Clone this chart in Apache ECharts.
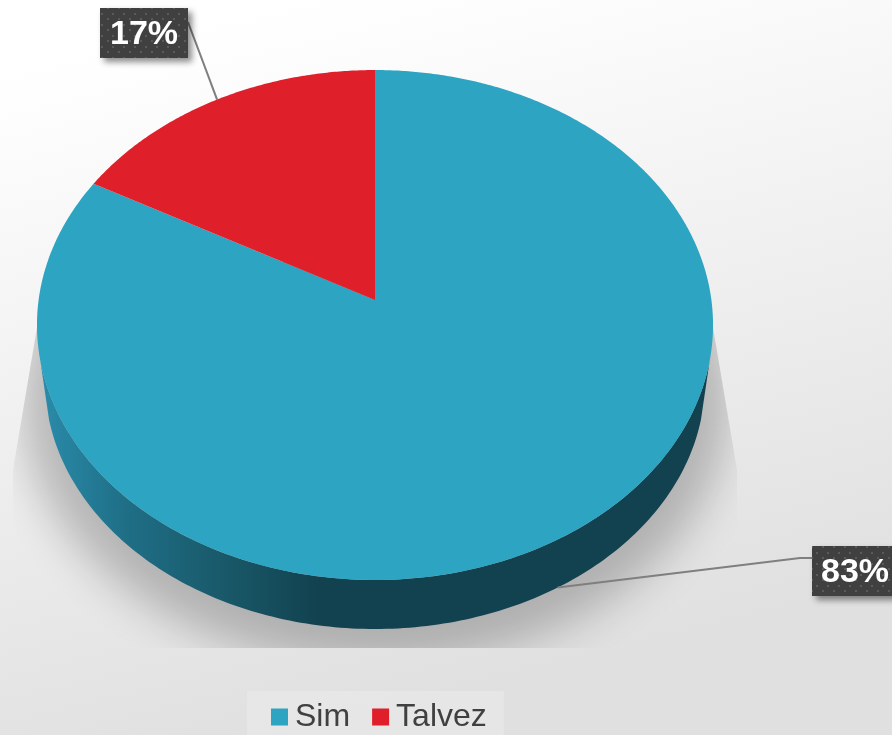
<!DOCTYPE html>
<html><head><meta charset="utf-8">
<style>html,body{margin:0;padding:0;background:#eee}#c{width:892px;height:735px}</style>
<script src="https://cdn.jsdelivr.net/npm/echarts@6/dist/echarts.min.js"></script>
</head><body><div id="c"></div>
<script>
const categories = ['Sim', 'Talvez'];
const seriesValues = [83, 17];
const sliceColors = ['#2ca4c2', '#df1f29'];

const total = seriesValues.reduce((a, b) => a + b, 0);
// 3D-look projection of the pie disc
const apex = {x: 375, y: 300}, persp = -0.098, kx = 336.4, ky = 252.5;
const rim = a => {
  const u = Math.sin(a), v = -Math.cos(a), d = 1 + persp * v;
  return [apex.x + kx * u / d, apex.y + ky * v / d];
};
const topE = {cx: 375, cy: 325, rx: 338, ry: 255};
const botE = {cx: 375, cy: 381, rx: 330, ry: 248};
const toBottom = p => [botE.cx + (p[0] - topE.cx) * botE.rx / topE.rx, botE.cy + (p[1] - topE.cy) * botE.ry / topE.ry];

const labelBoxes = [
  {x: 812, y: 546, w: 88, h: 50, tx: 855, line: p => [[812, 558], [800, 558], toBottom(p)]},
  {x: 100, y: 8, w: 88, h: 50, tx: 144, line: p => [[188, 22], p]}
];

// dotted texture of the label boxes
const tex = document.createElement('canvas');
tex.width = 11; tex.height = 11;
(function () {
  const g = tex.getContext('2d');
  g.fillStyle = '#404040'; g.fillRect(0, 0, 11, 11);
  g.fillStyle = '#5a5a5a';
  g.fillRect(2, 2, 2, 2); g.fillRect(8, 7, 2, 2);
})();

function sliceStart(i) {
  let s = 0;
  for (let k = 0; k < i; k++) s += seriesValues[k];
  return s / total * Math.PI * 2;
}

function renderSlice(i) {
  return function (params, api) {
    const val = api.value(0);
    const a0 = sliceStart(i), a1 = a0 + val / total * Math.PI * 2, mid = (a0 + a1) / 2;
    const children = [];
    if (i === 0) {
      // soft ground shadow, clipped by its trapezoid
      children.push({
        type: 'ellipse',
        shape: {cx: 375 - 3000, cy: 395, rx: 355, ry: 270},
        style: {fill: '#000', shadowColor: 'rgba(0,0,0,0.23)', shadowBlur: 44, shadowOffsetX: 3000, shadowOffsetY: 0},
        clipPath: {type: 'polygon', shape: {points: [[48, 262], [702, 262], [737, 470], [737, 648], [13, 648], [13, 470]]}},
        z2: 1, silent: true
      });
      // side wall
      const wall = [];
      for (let t = 8; t <= 172; t++) {
        const r = t / 180 * Math.PI;
        wall.push([topE.cx + topE.rx * Math.cos(r), topE.cy + topE.ry * Math.sin(r)]);
      }
      for (let t = 171; t >= 9; t--) {
        const r = t / 180 * Math.PI;
        wall.push([botE.cx + botE.rx * Math.cos(r), botE.cy + botE.ry * Math.sin(r)]);
      }
      children.push({
        type: 'polygon', shape: {points: wall}, z2: 2,
        style: {fill: {type: 'linear', x: 40, y: 0, x2: 320, y2: 0, global: true, colorStops: [
          {offset: 0, color: '#2a8cab'}, {offset: 0.3, color: '#1f6f87'},
          {offset: 0.7, color: '#185666'}, {offset: 1, color: '#12414f'}
        ]}}
      });
    }
    const pts = [[apex.x, apex.y]];
    const n = Math.max(2, Math.ceil((a1 - a0) * 120));
    for (let t = 0; t <= n; t++) pts.push(rim(a0 + (a1 - a0) * t / n));
    children.push({type: 'polygon', shape: {points: pts}, style: {fill: sliceColors[i]}, z2: 3});

    const b = labelBoxes[i];
    children.push({
      type: 'polyline', shape: {points: b.line(rim(mid))}, z2: 4,
      style: {stroke: '#7f7f7f', lineWidth: 2, fill: null}
    });
    children.push({
      type: 'rect', shape: {x: b.x, y: b.y, width: b.w, height: b.h}, z2: 5,
      style: {fill: {image: tex, repeat: 'repeat'}, shadowColor: 'rgba(0,0,0,0.45)', shadowBlur: 6, shadowOffsetX: 4, shadowOffsetY: 4}
    });
    children.push({
      type: 'text', z2: 6,
      style: {
        text: Math.round(val / total * 100) + '%', x: b.tx, y: b.y + b.h / 2 + 2,
        fill: '#fff', font: 'bold 34px "Liberation Sans", Arial, sans-serif',
        textAlign: 'center', textVerticalAlign: 'middle'
      }
    });
    return {type: 'group', children};
  };
}

const chart = echarts.init(document.getElementById('c'));
chart.setOption({
  animation: false,
  backgroundColor: {type: 'linear', x: 0.1, y: 0, x2: 0.3, y2: 1, colorStops: [
    {offset: 0, color: '#ffffff'}, {offset: 0.1, color: '#fefefe'}, {offset: 1, color: '#e0e0e0'}
  ]},
  legend: {
    data: categories,
    left: 247, top: 691,
    padding: [10, 17, 9, 24],
    backgroundColor: 'rgba(255,255,255,0.2)',
    itemWidth: 17, itemHeight: 17, itemGap: 22, icon: 'rect',
    selectedMode: false,
    textStyle: {fontFamily: '"Liberation Sans", Arial, sans-serif', fontSize: 32, color: '#404040', padding: [10, 0, 0, 2]}
  },
  series: categories.map((name, i) => ({
    type: 'custom', name, coordinateSystem: 'none', silent: true,
    itemStyle: {color: sliceColors[i]},
    z: 2 + i,
    renderItem: renderSlice(i),
    data: [seriesValues[i]]
  }))
});
</script></body></html>
